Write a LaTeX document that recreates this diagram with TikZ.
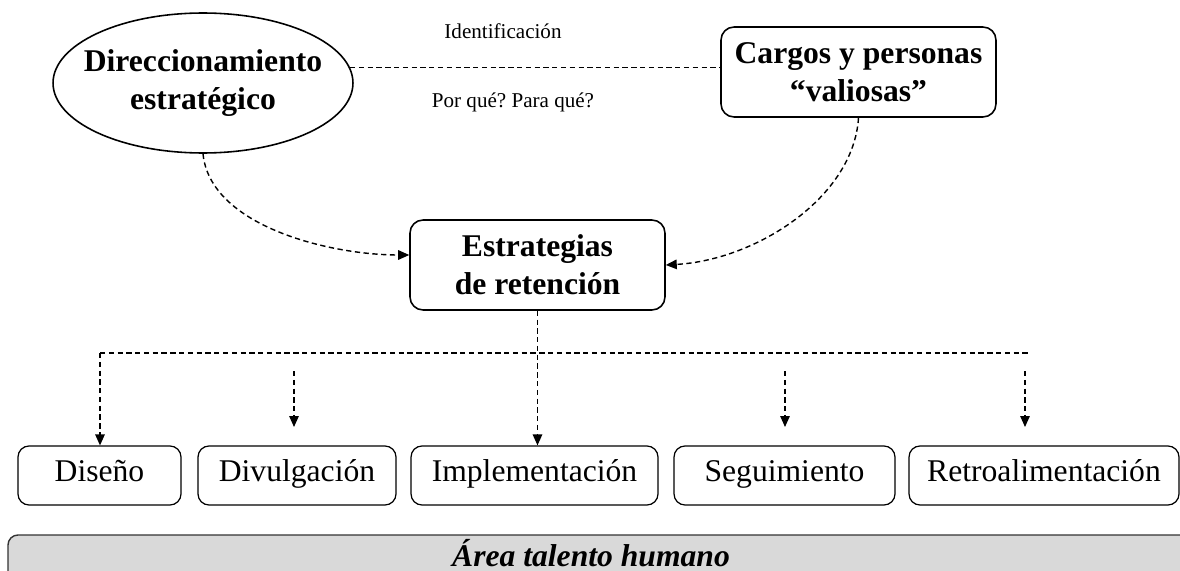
\documentclass[tikz,border=0pt]{standalone}
\usepackage{fontspec}
\setmainfont{Liberation Serif}
\usetikzlibrary{positioning, arrows.meta, calc, shapes.geometric}
\frenchspacing

\begin{document}
\begin{tikzpicture}[
    x=0.02cm, y=-0.02cm,
    >={Triangle[length=2.2mm, width=1.9mm]},
    font=\fontsize{18}{21.6}\selectfont,
    ellbox/.style={draw=black, ellipse, line width=0.9pt, minimum width=6cm, minimum height=2.8cm, inner sep=0pt},
    boldtext/.style={align=center, font=\fontsize{18}{21.6}\selectfont\bfseries},
    mainblock/.style={draw=black, fill=white, rounded corners=2.6mm, line width=0.9pt, boldtext},
    stage/.style={draw=black, rounded corners=2.2mm, line width=0.7pt, minimum height=1.18cm, text height=14pt, text depth=7pt, align=center},
    note/.style={font=\fontsize{12}{14}\selectfont},
    link/.style={draw=black, line width=0.8pt, dash pattern=on 3pt off 2pt},
    arrow/.style={link, ->},
    areabar/.style={draw=black!80, fill=black!15, rounded corners=2mm, line width=0.8pt}
]
\useasboundingbox (0,0) rectangle (1180,571);

%% ============================================================
%% TOP: DIRECCIONAMIENTO / CARGOS
%% ============================================================
\node[ellbox] (dir) at (203,83) {};
\node[boldtext] (dir_txt) at (dir.center) {Direccionamiento\\estratégico};
\node[mainblock, minimum width=5.5cm, minimum height=1.8cm] (cargos) at (858.5,72) {Cargos y personas\\“valiosas”};

\draw[link] (dir.6) -- (dir.6 -| cargos.west);
\node[note] (ident) at (503,31) {Identificación};
\node[note] (porque) at (513,102) {Por qué? Para qué?};

%% ============================================================
%% MIDDLE: ESTRATEGIAS
%% ============================================================
\node[mainblock, minimum width=5.1cm, minimum height=1.8cm] (estr) at (537.5,265) {Estrategias\\de retención};

\draw[arrow] (dir.south) .. controls +(7,72) and +(-80,0) .. ($(estr.west)+(0,-10)$);
\draw[arrow] (cargos.south) .. controls +(-5,80) and +(90,-5) .. (estr.east);

%% ============================================================
%% BOTTOM: STAGES
%% ============================================================
\foreach \n/\x/\w/\t in {dis/99.5/3.26/Diseño, divul/297/3.96/Divulgación, impl/534.5/4.94/Implementación, segui/784.5/4.42/Seguimiento, retro/1044/5.4/Retroalimentación} {
    \node[stage, minimum width=\w cm] (\n) at (\x,475.5) {\t};
}

\coordinate (bar_l) at (100,353);
\coordinate (bar_r) at (1028,353);
\draw[link] (bar_l) -- (bar_r);
\draw[arrow] (bar_l) -- (bar_l |- dis.north);
\draw[arrow] (estr.south) -- (estr.south |- impl.north);

\foreach \n/\x in {divul/294, segui/785, retro/1025} {
    \coordinate (\n_s) at (\x,371);
    \coordinate (\n_e) at (\x,427);
    \draw[arrow] (\n_s) -- (\n_e);
}

%% --- Area bar ---
\draw[areabar] (8,535) rectangle (1210,620);
\node[font=\fontsize{18}{21.6}\selectfont\bfseries\itshape, anchor=base, inner sep=0pt, text depth=0pt] (area) at (591,566) {Área talento humano};

\end{tikzpicture}
\end{document}
